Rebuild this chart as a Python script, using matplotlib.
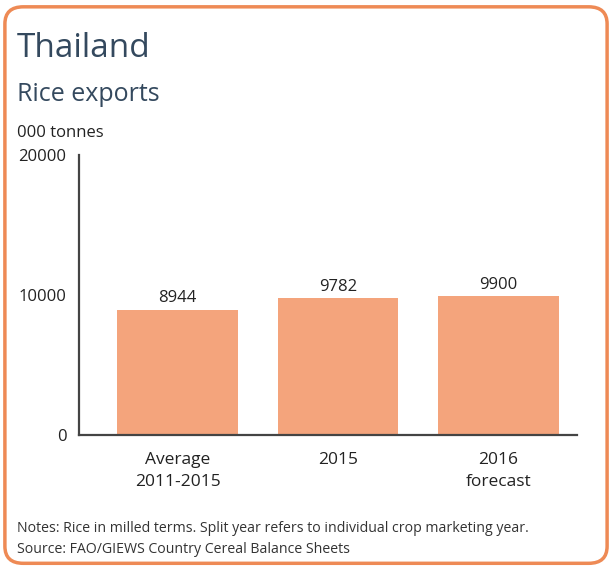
import matplotlib.pyplot as plt
from matplotlib.patches import FancyBboxPatch

# Chart data
categories = ["Average\n2011-2015", "2015", "2016\nforecast"]
exports = [8944, 9782, 9900]
y_ticks = [0, 10000, 20000]

ORANGE = "#ee8a55"
BAR = "#f4a47c"
NAVY = "#34495e"

plt.rcParams['font.family'] = ['Open Sans', 'DejaVu Sans']

fig = plt.figure(figsize=(6.12, 5.69), dpi=100)

# rounded orange frame round the whole card, kept behind the axes
frame = FancyBboxPatch((0.008, 0.01), 0.984, 0.978,
                       boxstyle="round,pad=0,rounding_size=0.03",
                       transform=fig.transFigure, facecolor="white",
                       edgecolor=ORANGE, linewidth=2.5, zorder=-10)
fig.patches.append(frame)

fig.text(0.028, 0.900, "Thailand", fontsize=24, color=NAVY, va="baseline")
fig.text(0.028, 0.822, "Rice exports", fontsize=18, color=NAVY, va="baseline")
fig.text(0.028, 0.759, "000 tonnes", fontsize=12, color="#222222", va="baseline")

ax = fig.add_axes([0.129, 0.2355, 0.814, 0.4921])
x = range(len(categories))
bars = ax.bar(x, exports, width=0.75, color=BAR)
for b, v in zip(bars, exports):
    ax.text(b.get_x() + b.get_width() / 2, v + 250, str(v),
            ha="center", va="bottom", fontsize=12, color="#222222")

ax.set_xlim(-0.614, 2.489)
ax.set_ylim(0, 20000)
ax.set_yticks(y_ticks)
ax.set_yticklabels([str(t) for t in y_ticks], fontsize=12, color="#222222")
ax.set_xticks(list(x))
ax.set_xticklabels(categories, fontsize=12.5, color="#222222", linespacing=1.55)
ax.tick_params(length=0, pad=9)
ax.tick_params(axis="x", pad=12)
for side in ["top", "right"]:
    ax.spines[side].set_visible(False)
for side in ["left", "bottom"]:
    ax.spines[side].set_color("#444444")
    ax.spines[side].set_linewidth(1.6)
ax.set_facecolor("none")

fig.text(0.028, 0.065, "Notes: Rice in milled terms. Split year refers to individual crop marketing year.",
         fontsize=10.2, color="#333333", va="baseline")
fig.text(0.028, 0.028, "Source: FAO/GIEWS Country Cereal Balance Sheets",
         fontsize=10.2, color="#333333", va="baseline")

fig.savefig("out.png", dpi=100, facecolor="white")
